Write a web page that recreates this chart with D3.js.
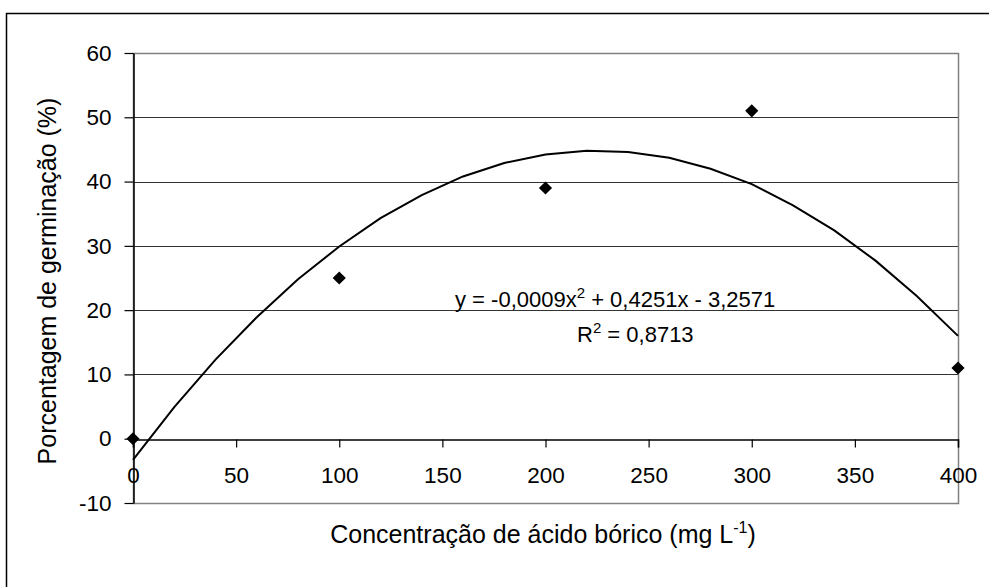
<!DOCTYPE html>
<html>
<head>
<meta charset="utf-8">
<script src="https://cdn.jsdelivr.net/npm/d3@7"></script>
<style>
  html, body { margin: 0; padding: 0; background: #fff; }
  text { font-family: Arial, "Liberation Sans", sans-serif; fill: #000; }
</style>
</head>
<body>
<div id="chart"></div>
<script>
// observed points (concentration, germination %)
const concentrations = [0, 100, 200, 300, 400];
const germination = [0, 25, 39, 51, 11];

// polynomial trendline
const trendX = [0, 20, 40, 60, 80, 100, 120, 140, 160, 180, 200, 220, 240, 260, 280, 300, 320, 340, 360, 380, 400];
const trendY = [-3.3, 4.9, 12.3, 18.9, 24.8, 29.9, 34.3, 37.9, 40.8, 42.9, 44.2, 44.8, 44.6, 43.7, 42.0, 39.6, 36.3, 32.4, 27.7, 22.2, 16.0];

const xTicks = [0, 50, 100, 150, 200, 250, 300, 350, 400];
const yTicks = [-10, 0, 10, 20, 30, 40, 50, 60];

const width = 989;
const height = 587;
const marginLeft = 133;
const marginRight = 31;
const marginTop = 53;
const marginBottom = 84;

const tickFont = 22.5;
const labelFont = 22;
const titleFont = 25;

const x = d3.scaleLinear()
    .domain([0, 400])
    .range([marginLeft, width - marginRight]);

const y = d3.scaleLinear()
    .domain([-10, 60])
    .range([height - marginBottom, marginTop]);

const svg = d3.select("#chart").append("svg")
    .attr("width", width)
    .attr("height", height);

// outer chart border (cut off by the picture edge on right and bottom)
svg.append("rect")
    .attr("x", 6.5).attr("y", 13.5)
    .attr("width", 1000).attr("height", 600)
    .attr("fill", "none")
    .attr("stroke", "#000")
    .attr("stroke-width", 1.5);

// gridlines
svg.append("g")
  .selectAll("line")
  .data(yTicks.filter(d => d > 0 && d < 60))
  .join("line")
    .attr("x1", x(0)).attr("x2", x(400))
    .attr("y1", d => Math.round(y(d)) + 0.5)
    .attr("y2", d => Math.round(y(d)) + 0.5)
    .attr("stroke", "#333")
    .attr("stroke-width", 1);

// plot area frame
svg.append("rect")
    .attr("x", x(0) + 0.5)
    .attr("y", Math.round(y(60)) + 0.5)
    .attr("width", x(400) - x(0))
    .attr("height", Math.round(y(-10)) - Math.round(y(60)))
    .attr("fill", "none")
    .attr("stroke", "#808080")
    .attr("stroke-width", 1.5);

const plainNum = d => String(d); // hyphen minus like the original

// x axis sits at y = 0
const xAxis = svg.append("g")
    .attr("transform", `translate(0,${Math.round(y(0)) + 0.5})`)
    .call(d3.axisBottom(x).tickValues(xTicks).tickSize(8).tickPadding(20).tickFormat(plainNum));
xAxis.select(".domain").attr("stroke", "#000").attr("stroke-width", 1.5);
xAxis.selectAll(".tick line").attr("stroke", "#000").attr("stroke-width", 1.2);
xAxis.selectAll("text")
    .attr("font-size", tickFont)
    .attr("font-family", "Arial, 'Liberation Sans', sans-serif");

const yAxis = svg.append("g")
    .attr("transform", `translate(${x(0) + 0.5},0)`)
    .call(d3.axisLeft(y).tickValues(yTicks).tickSize(9).tickPadding(13).tickSizeOuter(0).tickFormat(plainNum));
yAxis.select(".domain").attr("stroke", "#000").attr("stroke-width", 1.5);
yAxis.selectAll(".tick line").attr("stroke", "#000").attr("stroke-width", 1.2);
yAxis.selectAll("text")
    .attr("font-size", tickFont)
    .attr("font-family", "Arial, 'Liberation Sans', sans-serif");

// trendline
const line = d3.line()
    .x((d, i) => x(d))
    .y((d, i) => y(trendY[i]));

svg.append("path")
    .attr("fill", "none")
    .attr("stroke", "#000")
    .attr("stroke-width", 2)
    .attr("d", line(trendX));

// diamond markers
const diamond = d3.symbol().type(d3.symbolDiamond2).size(110);
svg.append("g")
  .selectAll("path")
  .data(concentrations)
  .join("path")
    .attr("d", diamond)
    .attr("transform", (d, i) => `translate(${x(d)},${y(germination[i])})`)
    .attr("fill", "#000");

// equation labels
const eq = svg.append("text")
    .attr("x", 455).attr("y", 307)
    .attr("font-size", labelFont);
eq.append("tspan").text("y = -0,0009x");
eq.append("tspan").attr("dy", -9).attr("font-size", 15).text("2");
eq.append("tspan").attr("dy", 9).text(" + 0,4251x - 3,2571");

const r2 = svg.append("text")
    .attr("x", 577).attr("y", 342)
    .attr("font-size", labelFont);
r2.append("tspan").text("R");
r2.append("tspan").attr("dy", -9).attr("font-size", 15).text("2");
r2.append("tspan").attr("dy", 9).text(" = 0,8713");

// axis titles
const xt = svg.append("text")
    .attr("x", 543).attr("y", 543)
    .attr("text-anchor", "middle")
    .attr("font-size", titleFont);
xt.append("tspan").text("Concentração de ácido bórico (mg L");
xt.append("tspan").attr("dy", -10).attr("font-size", 16).text("-1");
xt.append("tspan").attr("dy", 10).text(")");

svg.append("text")
    .attr("transform", "translate(56,281) rotate(-90)")
    .attr("text-anchor", "middle")
    .attr("font-size", titleFont)
    .text("Porcentagem de germinação (%)");
</script>
</body>
</html>
